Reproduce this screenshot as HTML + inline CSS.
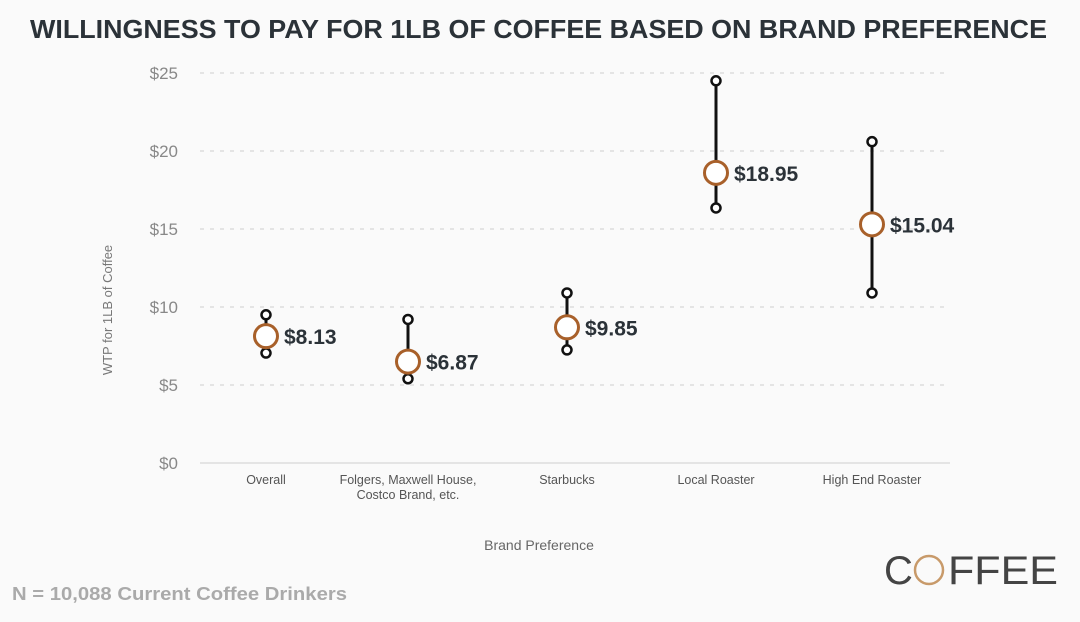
<!DOCTYPE html>
<html><head><meta charset="utf-8"><style>
body{margin:0;width:1080px;height:617px;background:#fafafa;overflow:hidden;font-family:"Liberation Sans",sans-serif}
</style></head><body>
<svg id="chart" width="1080" height="617">
<text x="30" y="38" textLength="1017" lengthAdjust="spacingAndGlyphs" font-size="26" font-weight="bold" fill="#2b3238">WILLINGNESS TO PAY FOR 1LB OF COFFEE BASED ON BRAND PREFERENCE</text>
<text x="112" y="310" text-anchor="middle" font-size="13" fill="#777" transform="rotate(-90 112 310)">WTP for 1LB of Coffee</text>
<text x="539" y="550" text-anchor="middle" font-size="14" fill="#666">Brand Preference</text>
<text x="12" y="600" textLength="335" lengthAdjust="spacingAndGlyphs" font-size="18" font-weight="bold" fill="#aaa">N = 10,088 Current Coffee Drinkers</text>
<g>
<text x="884" y="584" font-size="40" fill="#444">C</text>
<circle cx="929" cy="570" r="14" fill="none" stroke="#c89a6a" stroke-width="2.5"/>
<text x="948" y="584" textLength="110" lengthAdjust="spacingAndGlyphs" font-size="40" fill="#444">FFEE</text>
</g>
<g id="plot"></g>
</svg>
<script>
const categories=["Overall","Folgers, Maxwell House,|Costco Brand, etc.","Starbucks","Local Roaster","High End Roaster"];
const means=[8.13,6.5,8.7,18.6,15.3];
const highs=[9.5,9.2,10.9,24.5,20.6];
const lows=[7.05,5.4,7.25,16.35,10.9];
const valueLabels=["$8.13","$6.87","$9.85","$18.95","$15.04"];
const yTicks=[0,5,10,15,20,25];
const ns="http://www.w3.org/2000/svg";
const g=document.getElementById('plot');
const y=v=>463-v*15.6;
const xs=[266,408,567,716,872];
const x=i=>xs[i];
function mk(t,a){const e=document.createElementNS(ns,t);for(const k in a)e.setAttribute(k,a[k]);g.appendChild(e);return e;}
yTicks.forEach(t=>{
 const l=mk('line',{x1:200,x2:950,y1:y(t),y2:y(t),stroke:'#ddd','stroke-width':1.5,'stroke-dasharray':t===0?'':'4,6'});
 
 
 const tx=mk('text',{x:178,y:y(t)+6,'text-anchor':'end','font-size':17,fill:'#888'});
 tx.textContent='$'+t;
 
 
});
categories.forEach((c,i)=>{
 const parts=c.split('|');
 parts.forEach((p,j)=>{
  const t=mk('text',{x:x(i),y:484+j*15,'text-anchor':'middle','font-size':12.5,fill:'#555'});
  t.textContent=p;
  
  
 });
 const w=mk('line',{x1:x(i),x2:x(i),y1:y(highs[i]),y2:y(lows[i]),stroke:'#111','stroke-width':3});
 
 
 [highs[i],lows[i]].forEach(v=>{
  const e=mk('circle',{cx:x(i),cy:y(v),r:4.5,fill:'#fff',stroke:'#111','stroke-width':2.5});
  
  
 });
 const m=mk('circle',{cx:x(i),cy:y(means[i]),r:11.5,fill:'#fff',stroke:'#a8602a','stroke-width':3});
 
 
 const lt=mk('text',{x:x(i)+18,y:y(means[i])+8,'font-size':21,'font-weight':'bold',fill:'#2b3238'});
 lt.textContent=valueLabels[i];
 
 
});
</script>
</body></html>
